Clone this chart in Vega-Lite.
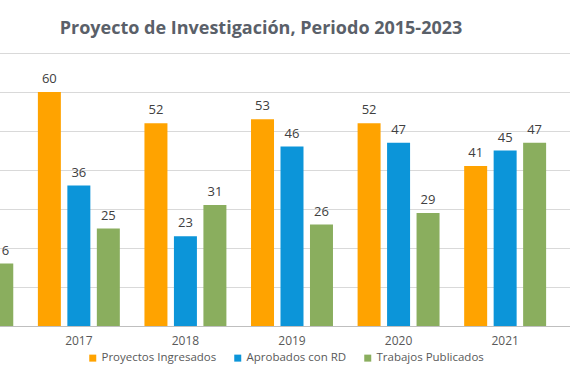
{
  "$schema": "https://vega.github.io/schema/vega-lite/v6.json",
  "width": 746,
  "height": 273,
  "autosize": {"type": "none"},
  "padding": {"left": -81, "top": 53, "right": 0, "bottom": 54},
  "background": "white",
  "title": {
    "text": "Proyecto de Investigación, Periodo 2015-2023",
    "font": "Open Sans",
    "fontSize": 18,
    "fontWeight": "bold",
    "color": "#5a6069",
    "anchor": "middle",
    "dx": -31,
    "offset": 15
  },
  "data": {
    "values": [
      {"year": "2016", "serie": "Trabajos Publicados", "valor": 16},
      {"year": "2017", "serie": "Proyectos Ingresados", "valor": 60},
      {"year": "2017", "serie": "Aprobados con RD", "valor": 36},
      {"year": "2017", "serie": "Trabajos Publicados", "valor": 25},
      {"year": "2018", "serie": "Proyectos Ingresados", "valor": 52},
      {"year": "2018", "serie": "Aprobados con RD", "valor": 23},
      {"year": "2018", "serie": "Trabajos Publicados", "valor": 31},
      {"year": "2019", "serie": "Proyectos Ingresados", "valor": 53},
      {"year": "2019", "serie": "Aprobados con RD", "valor": 46},
      {"year": "2019", "serie": "Trabajos Publicados", "valor": 26},
      {"year": "2020", "serie": "Proyectos Ingresados", "valor": 52},
      {"year": "2020", "serie": "Aprobados con RD", "valor": 47},
      {"year": "2020", "serie": "Trabajos Publicados", "valor": 29},
      {"year": "2021", "serie": "Proyectos Ingresados", "valor": 41},
      {"year": "2021", "serie": "Aprobados con RD", "valor": 45},
      {"year": "2021", "serie": "Trabajos Publicados", "valor": 47}
    ]
  },
  "encoding": {
    "x": {
      "field": "year",
      "type": "nominal",
      "scale": {
        "domain": ["2016", "2017", "2018", "2019", "2020", "2021", "2022"],
        "paddingInner": 0.231,
        "paddingOuter": 0.1155
      },
      "axis": {
        "title": null,
        "labelAngle": 0,
        "ticks": false,
        "domainColor": "#bfbfbf",
        "domainWidth": 1,
        "labelPadding": 9,
        "labelFont": "Open Sans",
        "labelFontSize": 12,
        "labelColor": "#595959"
      }
    },
    "xOffset": {
      "field": "serie",
      "type": "nominal",
      "sort": ["Proyectos Ingresados", "Aprobados con RD", "Trabajos Publicados"],
      "scale": {
        "domain": ["Proyectos Ingresados", "Aprobados con RD", "Trabajos Publicados"],
        "paddingInner": 0.22,
        "paddingOuter": 0
      }
    },
    "y": {
      "field": "valor",
      "type": "quantitative",
      "scale": {"domain": [0, 70], "nice": false},
      "axis": {
        "title": null,
        "values": [0, 10, 20, 30, 40, 50, 60, 70],
        "labels": false,
        "ticks": false,
        "domain": false,
        "grid": true,
        "gridColor": "#d9d9d9",
        "gridWidth": 1
      }
    }
  },
  "layer": [
    {
      "mark": {"type": "bar"},
      "encoding": {
        "color": {
          "field": "serie",
          "type": "nominal",
          "scale": {
            "domain": ["Proyectos Ingresados", "Aprobados con RD", "Trabajos Publicados"],
            "range": ["#ffa300", "#0c95d9", "#8aae5e"]
          },
          "legend": {
            "title": null,
            "orient": "none",
            "legendX": 168,
            "legendY": 299,
            "direction": "horizontal",
            "symbolType": "square",
            "symbolSize": 49,
            "symbolStrokeWidth": 0,
            "labelOffset": 3,
            "labelFont": "Open Sans",
            "labelFontSize": 11.5,
            "labelColor": "#595959",
            "columnPadding": 15,
            "padding": 0
          }
        }
      }
    },
    {
      "mark": {
        "type": "text",
        "baseline": "bottom",
        "dy": -6,
        "font": "Open Sans",
        "fontSize": 13,
        "color": "#404040"
      },
      "encoding": {
        "text": {"field": "valor", "type": "quantitative"}
      }
    }
  ],
  "config": {"view": {"stroke": null}}
}
